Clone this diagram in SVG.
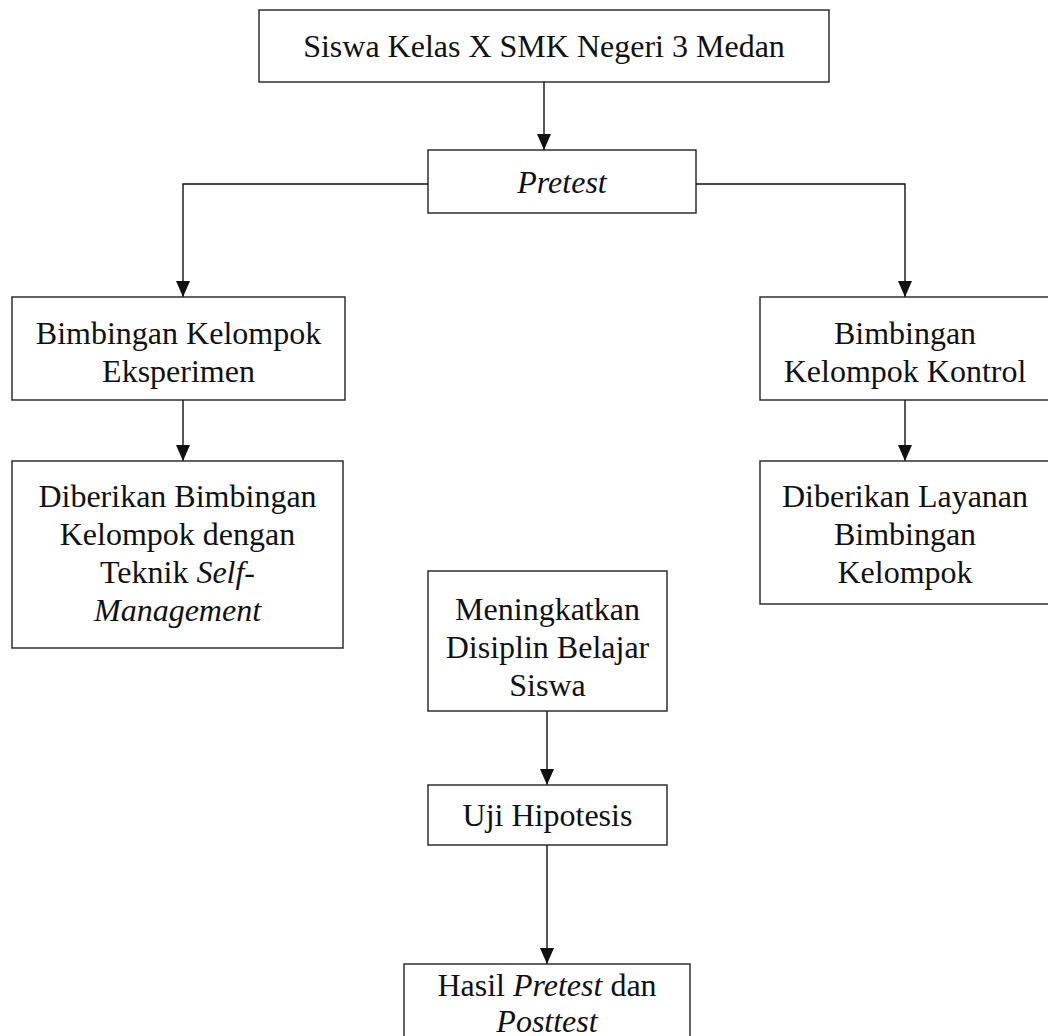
<svg xmlns="http://www.w3.org/2000/svg" width="1048" height="1036" viewBox="0 0 1048 1036">
<defs>
<style>
.box{fill:#fff;stroke:#222;stroke-width:1.4}
.t{font-family:"Liberation Serif","Times New Roman",serif;font-size:32px;fill:#111;text-anchor:middle}
.i{font-style:italic}
.c{fill:none;stroke:#111;stroke-width:1.4}
</style>
<marker id="ah" viewBox="0 0 16 14" refX="16" refY="7" markerWidth="16" markerHeight="14" markerUnits="userSpaceOnUse" orient="auto">
<path d="M0,0 L16,7 L0,14 z" fill="#111"/>
</marker>
</defs>
<rect width="1048" height="1036" fill="#fff"/>
<g id="connectors">
<line class="c" x1="544" y1="82" x2="544" y2="150" marker-end="url(#ah)"/>
<polyline class="c" points="428,184 183,184 183,297" marker-end="url(#ah)"/>
<polyline class="c" points="696,184 905,184 905,297" marker-end="url(#ah)"/>
<line class="c" x1="183" y1="400" x2="183" y2="461" marker-end="url(#ah)"/>
<line class="c" x1="905" y1="400" x2="905" y2="461" marker-end="url(#ah)"/>
<line class="c" x1="547" y1="711" x2="547" y2="785" marker-end="url(#ah)"/>
<line class="c" x1="547" y1="845" x2="547" y2="964" marker-end="url(#ah)"/>
</g>
<g id="n1">
<rect class="box" x="259" y="10" width="570" height="72"/>
<text class="t" x="544" y="57">Siswa Kelas X SMK Negeri 3 Medan</text>
</g>
<g id="n2">
<rect class="box" x="428" y="150" width="268" height="63"/>
<text class="t i" x="562" y="193">Pretest</text>
</g>
<g id="n3">
<rect class="box" x="12" y="297" width="333" height="103"/>
<text class="t" x="178.5" y="344">Bimbingan Kelompok</text>
<text class="t" x="178.5" y="382">Eksperimen</text>
</g>
<g id="n4">
<rect class="box" x="760" y="297" width="300" height="103"/>
<text class="t" x="905" y="344">Bimbingan</text>
<text class="t" x="905" y="382">Kelompok Kontrol</text>
</g>
<g id="n5">
<rect class="box" x="12" y="461" width="331" height="187"/>
<text class="t" x="177.5" y="507">Diberikan Bimbingan</text>
<text class="t" x="177.5" y="545">Kelompok dengan</text>
<text class="t" x="177.5" y="583">Teknik <tspan class="i">Self</tspan>-</text>
<text class="t i" x="177.5" y="621">Management</text>
</g>
<g id="n6">
<rect class="box" x="760" y="461" width="300" height="143"/>
<text class="t" x="905" y="507">Diberikan Layanan</text>
<text class="t" x="905" y="545">Bimbingan</text>
<text class="t" x="905" y="583">Kelompok</text>
</g>
<g id="n7">
<rect class="box" x="428" y="571" width="239" height="140"/>
<text class="t" x="547.5" y="620">Meningkatkan</text>
<text class="t" x="547.5" y="658">Disiplin Belajar</text>
<text class="t" x="547.5" y="696">Siswa</text>
</g>
<g id="n8">
<rect class="box" x="428" y="785" width="239" height="60"/>
<text class="t" x="547.5" y="826">Uji Hipotesis</text>
</g>
<g id="n9">
<rect class="box" x="404" y="964" width="286" height="90"/>
<text class="t" x="547" y="996">Hasil <tspan class="i">Pretest</tspan> dan</text>
<text class="t i" x="547" y="1032">Posttest</text>
</g>
</svg>
